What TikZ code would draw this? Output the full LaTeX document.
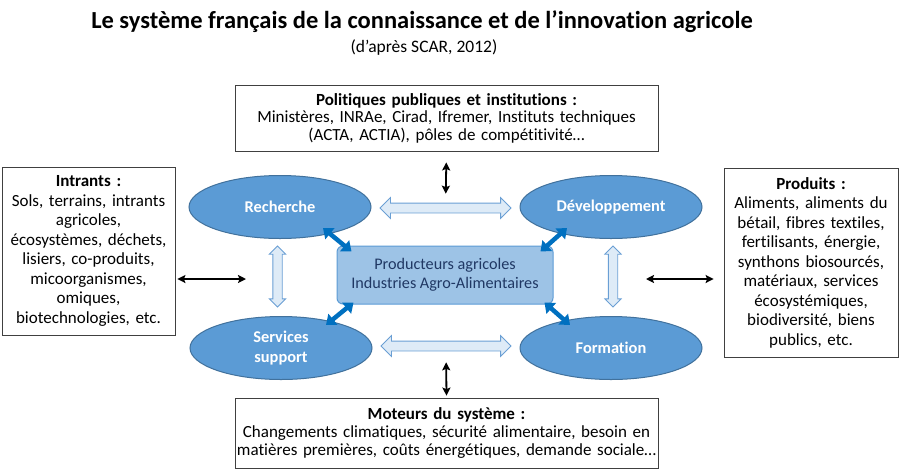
\documentclass[tikz,border=0pt]{standalone}
\usepackage{fontspec}
\setmainfont{Carlito}[Ligatures=NoCommon]
\usetikzlibrary{shapes.geometric,shapes.arrows,arrows.meta,calc}
\definecolor{ellbleu}{HTML}{5B9BD5}
\definecolor{ellbord}{HTML}{41719C}
\definecolor{prodfond}{HTML}{9DC3E6}
\definecolor{prodbord}{HTML}{5B9BD5}
\definecolor{prodtexte}{HTML}{203864}
\definecolor{creuxfond}{HTML}{DEEBF7}
\definecolor{creuxbord}{HTML}{6A9FD4}
\definecolor{flbleu}{HTML}{0070C0}
\begin{document}
\begin{tikzpicture}[x=1pt,y=-1pt,
		cadre/.style={draw=black!75, line width=0.8pt, align=center, inner sep=0pt, font=\fontsize{17}{19.5}\selectfont},
		bulle/.style={ellipse, draw=ellbord, fill=ellbleu, line width=1pt, minimum width=182pt, minimum height=63pt, inner sep=0pt, align=center, text=white, font=\fontsize{16.4}{20}\selectfont\bfseries},
		creux/.style={double arrow, draw=creuxbord, fill=creuxfond, line width=0.8pt, inner sep=4.5pt, double arrow head extend=5.5pt},
		noir/.style={line width=1.8pt, {Stealth[length=8pt,width=8pt,inset=1.5pt]}-{Stealth[length=8pt,width=8pt,inset=1.5pt]}},
		bleu/.style={draw=flbleu, line width=4.5pt, {Triangle[length=9pt,width=14pt]}-{Triangle[length=9pt,width=14pt]}}]
		\useasboundingbox (0,0) rectangle (901,472);
		\node[font=\fontsize{24.5}{27}\selectfont\bfseries] (titre) at (422,22) {Le système français de la connaissance et de l’innovation agricole};
		\node[font=\fontsize{17.5}{20}\selectfont] (soustitre) at (424,48) {(d’après SCAR, 2012)};
		% cadres autour
		\node[cadre, minimum width=423pt, minimum height=66pt, text width=423pt, font=\fontsize{17}{17.5}\selectfont] (polit) at (446.5,118) {\textbf{Politiques publiques et institutions :}\\Ministères, INRAe, Cirad, Ifremer, Instituts techniques\\(ACTA, ACTIA), pôles de compétitivité…};
		\node[cadre, minimum width=423pt, minimum height=70pt, text width=423pt, font=\fontsize{17}{18}\selectfont] (moteurs) at (446.5,433) {\textbf{Moteurs du système :}\\Changements climatiques, sécurité alimentaire, besoin en\\matières premières, coûts énergétiques, demande sociale…};
		\node[cadre, minimum width=173pt, minimum height=168pt, text width=173pt] (intrants) at (88.5,251) {\textbf{Intrants :}\\Sols, terrains, intrants\\agricoles,\\écosystèmes, déchets,\\lisiers, co-produits,\\micoorganismes,\\omiques,\\biotechnologies, etc.};
		\node[cadre, minimum width=174pt, minimum height=189pt, text width=174pt] (produits) at (811,262.5) {\textbf{Produits :}\\Aliments, aliments du\\bétail, fibres textiles,\\fertilisants, énergie,\\synthons biosourcés,\\matériaux, services\\écosystémiques,\\biodiversité, biens\\publics, etc.};
		% acteurs
		\node[bulle] (rech) at (280,207) {Recherche};
		\node[bulle] (dev) at (611,207) {Développement};
		\node[bulle] (serv) at (281,348) {Services\\support};
		\node[bulle] (form) at (611,348) {Formation};
		\node[draw=prodbord, fill=prodfond, line width=1pt, rounded corners=6pt, minimum width=216pt, minimum height=58pt, inner sep=0pt, align=center, text=prodtexte, font=\fontsize{16.2}{19}\selectfont] (prod) at (445,275) {Producteurs agricoles\\Industries Agro-Alimentaires};
		% fleches creuses
		\node[creux, minimum height=131pt] (hRD) at ($(rech)!0.5!(dev)+(0,1)$) {};
		\node[creux, minimum height=130pt] (hSF) at ($(serv)!0.5!(form)+(0,-2)$) {};
		\node[creux, rotate=90, minimum height=61pt, inner sep=4.25pt, double arrow head extend=3.5pt] (vRS) at ($(rech)!0.5!(serv)+(-3,-1)$) {};
		\node[creux, rotate=90, minimum height=61pt, inner sep=4.25pt, double arrow head extend=3.5pt] (vDF) at ($(dev)!0.5!(form)+(2,-1)$) {};
		% fleches bleues
		\draw[bleu] ($(rech)+(43,21)$) -- ($(prod.north west)+(15,6)$);
		\draw[bleu] ($(dev)+(-44,21)$) -- ($(prod.north east)+(-13,6)$);
		\draw[bleu] ($(prod.south west)+(17,-2)$) -- ($(serv)+(45,-23)$);
		\draw[bleu] ($(prod.south east)+(-9,-2)$) -- ($(form)+(-41,-23)$);
		% fleches noires
		\coordinate (gauche) at (246,279);
		\coordinate (droite) at (646,279);
		\draw[noir, shorten <=11pt, shorten >=9pt] (polit.south) -- (hRD);
		\draw[noir, shorten <=11pt, shorten >=2pt] (hSF) -- (moteurs.north);
		\draw[noir, shorten <=2pt] (gauche -| intrants.east) -- (gauche);
		\draw[noir, shorten >=10pt] (droite) -- (droite -| produits.west);
	\end{tikzpicture}
\end{document}
